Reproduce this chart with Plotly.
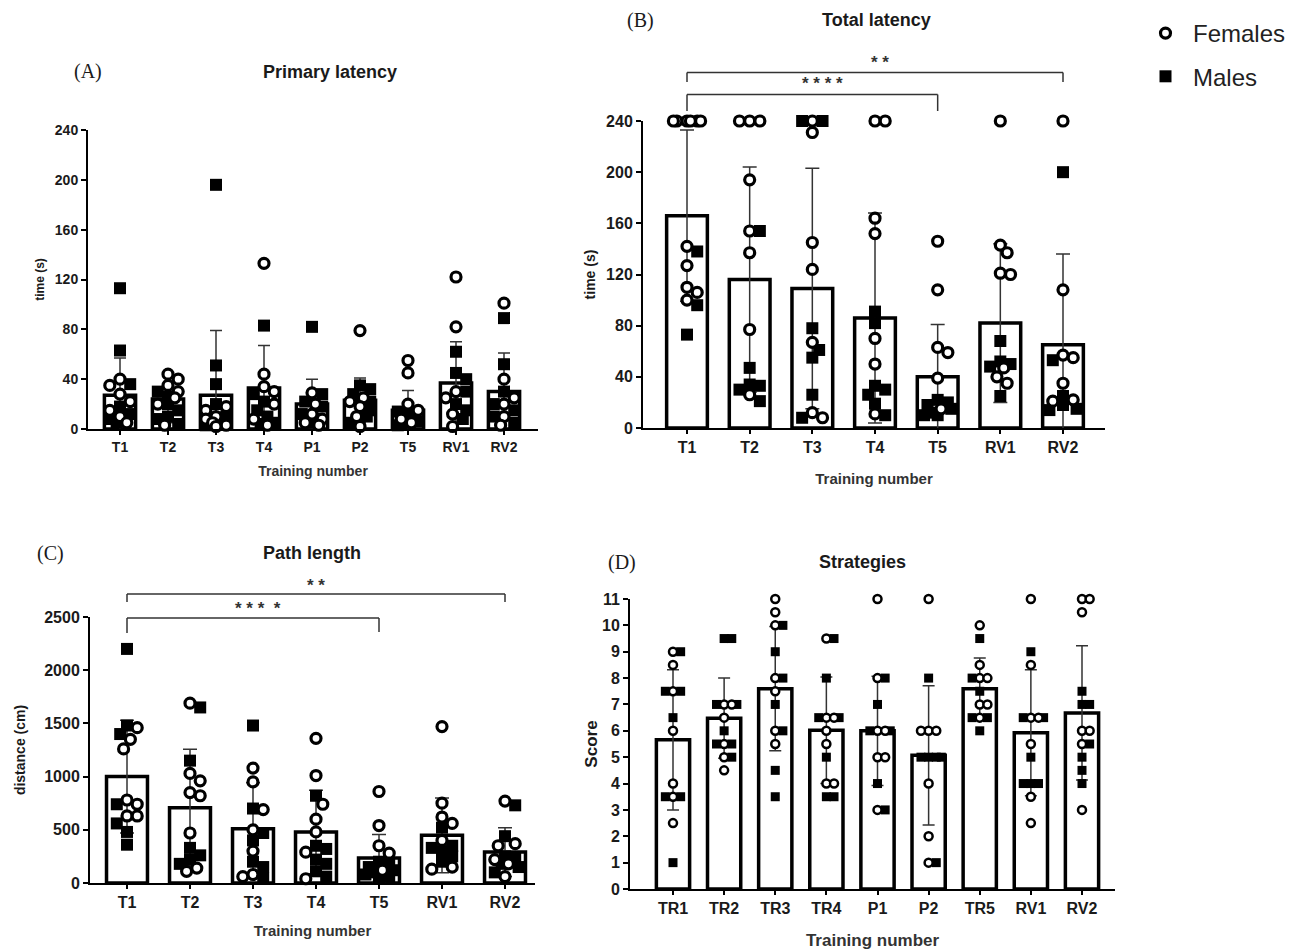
import plotly.graph_objects as go
import numpy as np

W, H = 1298, 950
OFF = 8  # page body margin of the browser

# ---------------- Panel A: Primary latency ----------------
a_cats = ["T1", "T2", "T3", "T4", "P1", "P2", "T5", "RV1", "RV2"]
a_mean = [27, 24, 27, 33, 20, 23, 15, 37, 30]
a_sd = [30, 19, 52, 34, 20, 18, 16, 33, 31]
a_fem = [[40, 35, 28, 22, 15, 10, 5], [44, 40, 35, 30, 25, 20, 3], [18, 15, 10, 8, 5, 3, 2],
         [133, 44, 34, 30, 20, 8, 3], [29, 20, 12, 8, 5, 3], [79, 25, 22, 18, 10, 2],
         [55, 45, 20, 15, 8, 5], [122, 82, 30, 25, 12, 2], [101, 40, 25, 20, 10, 3]]
a_mal = [[113, 63, 36, 18, 12, 8, 5], [30, 26, 20, 15, 10, 8, 4], [196, 51, 36, 20, 10, 6, 3],
         [83, 28, 22, 15, 10, 5, 4], [82, 28, 22, 18, 12, 8, 5], [35, 32, 28, 22, 15, 10, 5],
         [14, 12, 10, 8, 6, 5, 3], [62, 45, 40, 30, 20, 15, 8], [89, 52, 30, 20, 15, 10, 5]]
a_yticks = [0, 40, 80, 120, 160, 200, 240]

# ---------------- Panel B: Total latency ----------------
b_cats = ["T1", "T2", "T3", "T4", "T5", "RV1", "RV2"]
b_mean = [166, 116, 109, 86, 40, 82, 65]
b_sd = [67, 88, 94, 82, 41, 62, 71]
b_fem = [[240, 240, 240, 240, 240, 240, 142, 127, 110, 106, 100],
         [240, 240, 240, 194, 154, 137, 77, 26],
         [240, 231, 145, 124, 67, 12, 8],
         [240, 240, 164, 152, 70, 50, 11],
         [146, 108, 63, 59, 39, 15],
         [240, 143, 137, 121, 120, 47, 40, 35],
         [240, 108, 57, 55, 35, 22, 21]]
b_mal = [[138, 96, 73],
         [154, 47, 34, 33, 30, 21],
         [240, 240, 78, 61, 55, 26, 8],
         [91, 82, 33, 30, 26, 19, 10],
         [22, 20, 18, 15, 12, 10, 10],
         [68, 52, 50, 48, 25],
         [200, 53, 25, 18, 15, 14]]
b_yticks = [0, 40, 80, 120, 160, 200, 240]

# ---------------- Panel C: Path length ----------------
c_cats = ["T1", "T2", "T3", "T4", "T5", "RV1", "RV2"]
c_mean = [1000, 708, 511, 479, 235, 448, 291]
c_sd = [530, 548, 432, 392, 222, 351, 229]
c_fem = [[1460, 1350, 1260, 780, 740, 630, 630],
         [1690, 1030, 960, 850, 820, 470, 140, 110],
         [1080, 950, 690, 500, 300, 80, 60],
         [1360, 1010, 740, 600, 480, 290, 40],
         [860, 540, 350, 280, 120],
         [1470, 750, 620, 560, 400, 150, 130],
         [770, 370, 350, 220, 180, 60]]
c_mal = [[2200, 1480, 1400, 740, 560, 480, 360],
         [1650, 1150, 330, 260, 220, 180],
         [1480, 700, 470, 400, 200, 150, 40],
         [820, 350, 320, 220, 180, 110, 60],
         [200, 180, 150, 120, 100, 80, 60, 40],
         [520, 350, 330, 300, 250, 200],
         [730, 440, 250, 230, 180, 150, 100]]
c_yticks = [0, 500, 1000, 1500, 2000, 2500]

# ---------------- Panel D: Strategies ----------------
d_cats = ["TR1", "TR2", "TR3", "TR4", "P1", "P2", "TR5", "RV1", "RV2"]
d_mean = [5.66, 6.48, 7.6, 6.02, 6.0, 5.07, 7.6, 5.93, 6.68]
d_sd = [2.66, 1.52, 2.36, 2.02, 2.07, 2.64, 1.16, 2.39, 2.55]
d_fem = [[9, 8.5, 7.5, 6, 4, 3.5, 2.5],
         [7, 7, 6.5, 5.5, 5, 4.5],
         [11, 10.5, 10, 8, 7.5, 6, 5.5],
         [9.5, 6.5, 6.5, 6, 5.5, 4, 4],
         [11, 8, 6, 6, 5, 5, 3],
         [11, 6, 6, 6, 4, 2, 1],
         [10, 8.5, 8, 8, 7, 7, 6.5],
         [11, 8.5, 6.5, 6.5, 5.5, 3.5, 2.5],
         [11, 11, 10.5, 6, 6, 5.5, 3]]
d_mal = [[9, 7.5, 7.5, 6.5, 3.5, 3.5, 1],
         [9.5, 9.5, 7, 7, 6, 5.5, 5.5, 5],
         [10, 9, 8, 7, 6, 4.5, 3.5],
         [9.5, 8, 6.5, 6.5, 5, 3.5, 3.5],
         [8, 7, 6, 6, 4, 3],
         [8, 5, 5, 5, 5, 1],
         [9.5, 8, 7.5, 6.5, 6.5, 6],
         [9, 6.5, 6.5, 5, 4, 4, 4],
         [7.5, 7, 7, 5.5, 5, 4.5, 4]]
d_yticks = list(range(0, 12))

FONT = "Liberation Sans, Arial, sans-serif"
SERIF = "Liberation Serif, Times New Roman, serif"


def X(px):
    return (px - OFF) / W


def Y(py):
    return 1 - (py - OFF) / H


def swarm(fem, mal, xpu, ypu, diam, maxfrac):
    """Deterministic beeswarm offsets (category units) for female / male points."""
    pts = [(v, 0) for v in fem] + [(v, 1) for v in mal]
    order = sorted(range(len(pts)), key=lambda k: -pts[k][0])
    step = diam / 3.0
    maxoff = maxfrac * xpu
    cands = [0.0]
    k = 1
    while k * step <= maxoff:
        cands += [k * step, -k * step]
        k += 1
    placed = []
    offs = [0.0] * len(pts)
    for idx in order:
        y = pts[idx][0] * ypu
        best, bestd = 0.0, -1
        for c in cands:
            d = min([np.hypot(c - px, y - py) for px, py in placed], default=1e9)
            if d >= diam:
                best = c
                break
            if d > bestd:
                bestd, best = d, c
        placed.append((best, y))
        offs[idx] = best / xpu
    nf = len(fem)
    return offs[:nf], offs[nf:]


fig = go.Figure()

panels = [
    dict(ax="", cats=a_cats, mean=a_mean, sd=a_sd, fem=a_fem, mal=a_mal, yt=a_yticks,
         xpx=(88, 538), c0=120, c1=504, ypx=(429, 130), yr=(0, 240),
         ytitle="time (s)", ytfs=12, tfs=14, xtfs=14, stand_y=8, stand_x=12, xtitle_fs=14,
         msize=(10, 12), mline=3.2, capw=6),
    dict(ax="2", cats=b_cats, mean=b_mean, sd=b_sd, fem=b_fem, mal=b_mal, yt=b_yticks,
         xpx=(643, 1105), c0=687, c1=1063, ypx=(428, 121), yr=(0, 240),
         ytitle="time (s)", ytfs=14, tfs=16, xtfs=16, stand_y=7, stand_x=18, xtitle_fs=15,
         msize=(10, 12), mline=3.2, capw=7),
    dict(ax="3", cats=c_cats, mean=c_mean, sd=c_sd, fem=c_fem, mal=c_mal, yt=c_yticks,
         xpx=(90, 535), c0=127, c1=505, ypx=(883, 617), yr=(0, 2500),
         ytitle="distance (cm)", ytfs=14, tfs=16, xtfs=16, stand_y=15, stand_x=15, xtitle_fs=15,
         msize=(10, 12), mline=3.2, capw=7),
    dict(ax="4", cats=d_cats, mean=d_mean, sd=d_sd, fem=d_fem, mal=d_mal, yt=d_yticks,
         xpx=(630, 1115), c0=673, c1=1082, ypx=(889, 599), yr=(0, 11),
         ytitle="Score", ytfs=17, tfs=16, xtfs=16, stand_y=0, stand_x=18, xtitle_fs=17,
         msize=(8, 9), mline=2.5, capw=6),
]

layout_axes = {}
for p_i, p in enumerate(panels):
    n = len(p["cats"])
    stepx = (p["c1"] - p["c0"]) / (n - 1)
    xr = [-(p["c0"] - p["xpx"][0]) / stepx, (n - 1) + (p["xpx"][1] - p["c1"]) / stepx]
    ypu = (p["ypx"][0] - p["ypx"][1]) / (p["yr"][1] - p["yr"][0])
    xa = "x" + p["ax"]
    ya = "y" + p["ax"]
    xs = list(range(n))

    fig.add_trace(go.Bar(
        x=xs, y=p["mean"], width=0.65, xaxis=xa, yaxis=ya,
        marker=dict(color="white", line=dict(color="black", width=3.5)),
        error_y=dict(type="data", array=p["sd"], color="#333333", thickness=1.5, width=p["capw"]),
        showlegend=False, hoverinfo="skip"))

    fxs, fys, mxs, mys = [], [], [], []
    for i in range(n):
        of, om = swarm(p["fem"][i], p["mal"][i], stepx, ypu, p["msize"][1] * 0.85, 0.26)
        fxs += [i + o for o in of]
        fys += list(p["fem"][i])
        mxs += [i + o for o in om]
        mys += list(p["mal"][i])

    fig.add_trace(go.Scatter(
        x=mxs, y=mys, mode="markers", xaxis=xa, yaxis=ya, name="Males",
        legendgroup="m", legendrank=2, showlegend=(p_i == 0), cliponaxis=False,
        marker=dict(symbol="square", size=p["msize"][1], color="black", line=dict(width=0))))
    fig.add_trace(go.Scatter(
        x=fxs, y=fys, mode="markers", xaxis=xa, yaxis=ya, name="Females",
        legendgroup="f", legendrank=1, showlegend=(p_i == 0), cliponaxis=False,
        marker=dict(symbol="circle", size=p["msize"][0], color="white",
                    line=dict(width=p["mline"], color="black"))))

    key = p["ax"]
    layout_axes["xaxis" + key] = dict(
        domain=[X(p["xpx"][0]), X(p["xpx"][1])], range=xr, anchor=ya, automargin=False,
        tickvals=xs, ticktext=p["cats"], showline=True, linecolor="black", linewidth=2,
        ticks="outside", ticklen=4, tickwidth=1.5, tickcolor="black", showgrid=False, zeroline=False,
        tickfont=dict(family=FONT, size=p["xtfs"], color="#1a1a1a", weight="bold"),
        title=dict(text="Training number", standoff=p["stand_x"],
                   font=dict(family=FONT, size=p["xtitle_fs"], color="#333333", weight="bold")))
    layout_axes["yaxis" + key] = dict(
        domain=[Y(p["ypx"][0]), Y(p["ypx"][1])], range=list(p["yr"]), anchor=xa, automargin=False,
        tickvals=p["yt"], showline=True, linecolor="black", linewidth=2,
        ticks="outside", ticklen=5, tickwidth=1.5, tickcolor="black", showgrid=False, zeroline=False,
        tickfont=dict(family=FONT, size=p["tfs"], color="#1a1a1a", weight="bold"),
        title=dict(text=p["ytitle"], standoff=p["stand_y"],
                   font=dict(family=FONT, size=p["ytfs"], color="#1a1a1a", weight="bold")))


# significance brackets (x in category units of the panel, y in pixel rows)
def bracket(ax, x0, x1, y_line, y_l, y_r):
    ln = dict(color="#333333", width=1.5)
    fig.add_shape(type="line", xref=ax, yref="paper", x0=x0, x1=x1,
                  y0=Y(y_line), y1=Y(y_line), line=ln)
    fig.add_shape(type="line", xref=ax, yref="paper", x0=x0, x1=x0,
                  y0=Y(y_line), y1=Y(y_l), line=ln)
    fig.add_shape(type="line", xref=ax, yref="paper", x0=x1, x1=x1,
                  y0=Y(y_line), y1=Y(y_r), line=ln)


bracket("x2", b_cats.index("T1"), b_cats.index("RV2"), 72.5, 82, 82)
bracket("x2", b_cats.index("T1"), b_cats.index("T5"), 94.5, 111, 111)
bracket("x3", c_cats.index("T1"), c_cats.index("RV2"), 594, 602, 602)
bracket("x3", c_cats.index("T1"), c_cats.index("T5"), 618, 633, 632)

annots = []


def txt(text, x, y, size, family=FONT, bold=True, color="#1a1a1a"):
    annots.append(dict(text=text, x=X(x), y=Y(y), xref="paper", yref="paper",
                       showarrow=False, xanchor="center", yanchor="middle",
                       font=dict(family=family, size=size, color=color,
                                 weight="bold" if bold else "normal")))


txt("(A)", 88, 72, 20, SERIF, False)
txt("Primary latency", 330, 72, 18)
txt("(B)", 640, 20, 20, SERIF, False)
txt("Total latency", 876, 20, 18)
txt("(C)", 50, 553, 20, SERIF, False)
txt("Path length", 312, 553, 18)
txt("(D)", 622, 562, 20, SERIF, False)
txt("Strategies", 862, 562, 18)
txt("* *", 880, 63, 17, color="#333333")
txt("* * * *", 822, 84, 17, color="#333333")
txt("* *", 316, 585, 17, color="#333333")
txt("* * *  *", 258, 608, 17, color="#333333")

fig.update_layout(
    width=W, height=H, margin=dict(l=0, r=0, t=0, b=0, autoexpand=False),
    plot_bgcolor="white", paper_bgcolor="white",
    barmode="overlay", annotations=annots,
    legend=dict(x=X(1138), y=Y(11), xanchor="left", yanchor="top", itemwidth=45,
                font=dict(family=FONT, size=24, color="#222222"),
                tracegroupgap=9, traceorder="grouped", bgcolor="rgba(0,0,0,0)"),
    **layout_axes)

fig.write_html("out.html")
